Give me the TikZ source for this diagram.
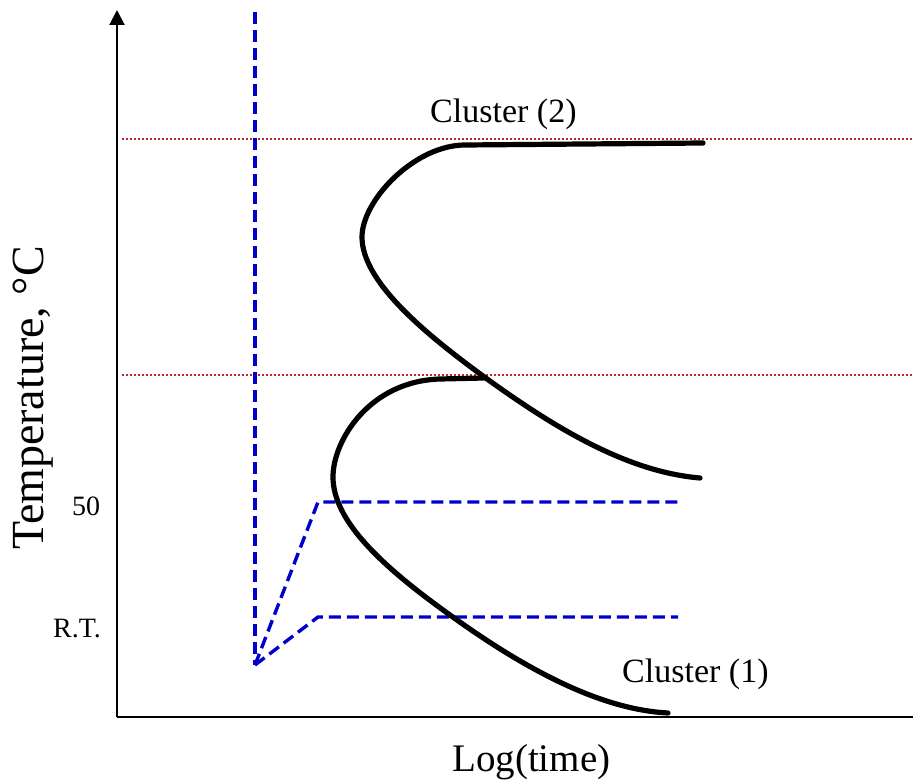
\documentclass[tikz,border=0pt]{standalone}
\usepackage{fontspec}
\setmainfont{Liberation Serif}
\usetikzlibrary{arrows.meta}
\definecolor{dotred}{RGB}{190,40,40}
\definecolor{dashblue}{RGB}{0,0,205}
\tikzset{
  axisline/.style={line width=2pt, black},
  curveline/.style={line width=5.2pt, black, line cap=round},
  refline/.style={line width=2pt, dotred, dash pattern=on 1.8pt off 2.2pt},
  pathline/.style={line width=3.4pt, dashblue, dash pattern=on 12pt off 6pt},
  lbl/.style={inner sep=0pt, anchor=base west},
}
\newcommand{\fs}[1]{\fontsize{#1}{#1}\selectfont}
\begin{document}
\begin{tikzpicture}[x=1pt,y=-1pt]
\useasboundingbox (0,0) rectangle (913,784);
% axes
\coordinate (o) at (117,717);
\coordinate (ytop) at (117,10);
\coordinate (xend) at (913,717);
\draw[axisline] (o) -- (xend);
\draw[axisline,-{Triangle[width=15pt,length=15pt]}] (o) -- (ytop);
% reference dotted lines
\coordinate (r1a) at (122,139);
\coordinate (r1b) at (913,139);
\coordinate (r2a) at (122,375);
\coordinate (r2b) at (913,375);
\draw[refline] (r1a) -- (r1b);
\draw[refline] (r2a) -- (r2b);
% blue heat-treatment paths
\coordinate (vtop) at (255,12);
\coordinate (v) at (255,665);
\coordinate (a1) at (318,502);
\coordinate (a2) at (678,502);
\coordinate (b1) at (318,617);
\coordinate (b2) at (678,617);
\draw[pathline] (vtop) -- (v);
\draw[pathline] (v) -- (a1) -- (a2);
\draw[pathline] (v) -- (b1) -- (b2);
% C-curves
\draw[curveline] (703,143) -- (465,145)
  .. controls (415,145) and (362,200) .. (362,237)
  .. controls (362,280) and (420,330) .. (483,376)
  .. controls (560,432) and (630,472) .. (700,478);
\draw[curveline] (484,378) -- (440,379)
  .. controls (370,381) and (333,440) .. (333,477)
  .. controls (333,520) and (380,565) .. (450,615)
  .. controls (540,680) and (610,710) .. (668,713);
% labels
\node[lbl] (c2) at (430,122) {\fs{34}Cluster (2)};
\node[lbl] (c1) at (622,682) {\fs{34}Cluster (1)};
\node[lbl] (t50) at (72,515) {\fs{28}50};
\node[lbl] (trt) at (53,637) {\fs{28}R.T.};
\node[lbl] (xl) at (452,771) {\fs{39}Log(time)};
\node[inner sep=0pt, anchor=base, rotate=90] (yl) at (43,398) {\fs{46}Temperature, °C};
\end{tikzpicture}
\end{document}
